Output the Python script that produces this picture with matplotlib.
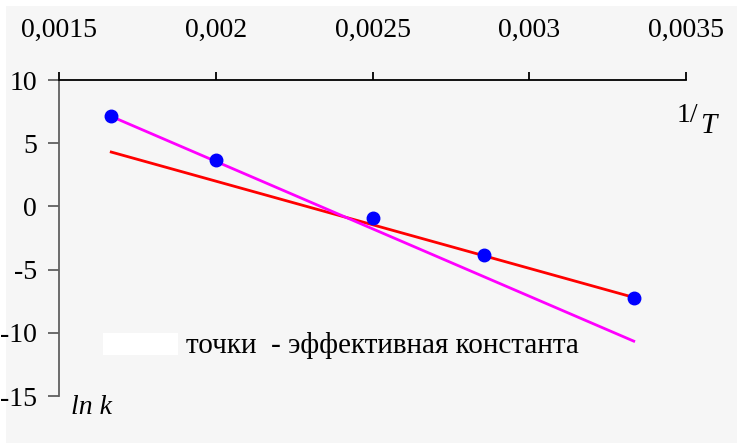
import matplotlib.pyplot as plt
from matplotlib.patches import Rectangle
from matplotlib.ticker import FuncFormatter

# data
inv_t = [1 / 600, 1 / 500, 1 / 400, 1 / 350, 1 / 300]
ln_k = [7.12, 3.7, -0.9, -3.82, -7.22]

fit_x = [1 / 600, 1 / 300]
fit_magenta = [7.12, -10.66]
fit_red = [4.3, -7.2]

x_ticks = [0.0015, 0.002, 0.0025, 0.003, 0.0035]
y_ticks = [-15, -10, -5, 0, 5, 10]

plt.rcParams["font.family"] = ["Liberation Serif", "DejaVu Serif"]

fig = plt.figure(figsize=(7.37, 4.43), dpi=100, facecolor="white")
fig.patches.append(
    Rectangle((6 / 737, 0), 1, 1 - 6 / 443, transform=fig.transFigure,
              facecolor="#f6f6f6", edgecolor="none", zorder=-10)
)
ax = fig.add_axes([59 / 737, 1 - 396 / 443, 627 / 737, 316 / 443])
ax.set_facecolor("none")

ax.plot(fit_x, fit_red, color="#ff0000", lw=2, zorder=2)
ax.plot(fit_x, fit_magenta, color="#ff00ff", lw=2, zorder=2)
ax.plot(inv_t, ln_k, "o", color="#0000ff", ms=9, zorder=3, clip_on=False)

ax.set_xlim(0.0015, 0.0035)
ax.set_ylim(-15, 10)
ax.set_xticks(x_ticks)
ax.set_yticks(y_ticks)


def comma_fmt(v, pos):
    s = f"{v:.4f}".rstrip("0").rstrip(".")
    return s.replace(".", ",")


ax.xaxis.set_major_formatter(FuncFormatter(comma_fmt))
ax.yaxis.set_major_formatter(FuncFormatter(lambda v, p: f"{int(v)}"))

ax.xaxis.set_ticks_position("top")
ax.spines["bottom"].set_visible(False)
ax.spines["right"].set_visible(False)
ax.spines["top"].set_color("black")
ax.spines["left"].set_color("#606060")
ax.spines["top"].set_linewidth(1.3)
ax.spines["left"].set_linewidth(1.3)
ax.tick_params(axis="x", direction="out", length=6, width=1.3, pad=21,
               labelsize=20, colors="black")
ax.tick_params(axis="y", direction="out", length=8, width=1.3, pad=8,
               labelsize=20, colors="black")
ax.tick_params(axis="y", color="#606060")

# axis captions
ax.text(0.003471, 7.2, "1/", fontsize=20, ha="left", va="center",
        clip_on=False)
ax.text(0.003545, 6.4, "T", fontsize=21, style="italic", ha="left",
        va="center", clip_on=False)
ax.text(0.001538, -15.9, "ln k", fontsize=20, style="italic", ha="left",
        va="center", clip_on=False)

# blank legend key, then the note
fig.patches.append(
    Rectangle((103 / 737, 1 - 355 / 443), 75 / 737, 22 / 443,
              transform=fig.transFigure, facecolor="white", edgecolor="none")
)
ax.text(0.001904, -11.0, "точки  - эффективная константа", fontsize=21,
        ha="left", va="center")

fig.savefig("out.png", dpi=100, facecolor=fig.get_facecolor())
